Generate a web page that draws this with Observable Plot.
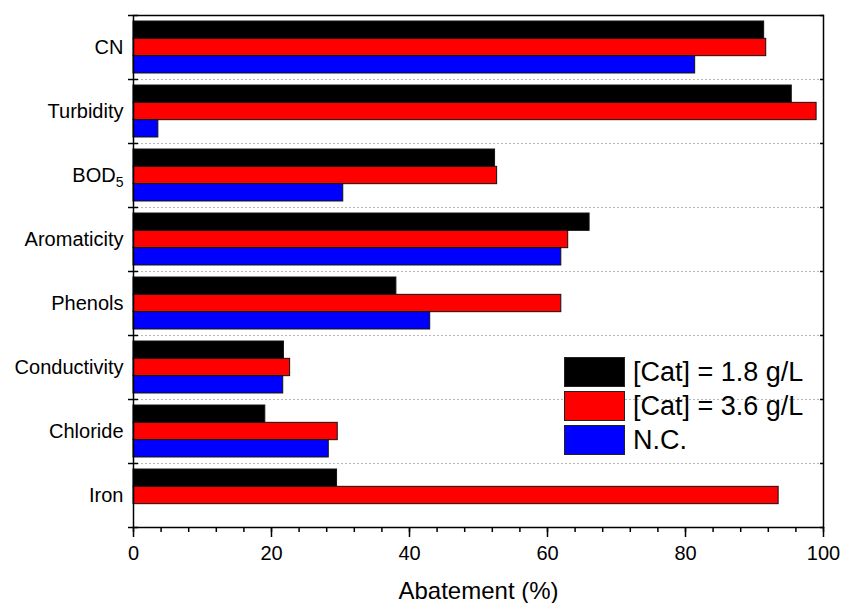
<!DOCTYPE html>
<html><head><meta charset="utf-8">
<script src="https://cdn.jsdelivr.net/npm/d3@7"></script>
<script src="https://cdn.jsdelivr.net/npm/@observablehq/plot@0.6"></script>
<style>
body{margin:0;background:#fff;}
#wrap{position:relative;width:841px;height:603px;font-family:"Liberation Sans",Arial,sans-serif;}
#legend{position:absolute;left:564px;top:357px;}
.item{display:flex;align-items:center;height:30px;margin-bottom:4px;}
.sw{width:59px;height:28px;border:1px solid #222;margin-right:8px;box-sizing:content-box;}
.lab{font-size:27px;line-height:30px;color:#000;white-space:nowrap;}
</style></head><body><div id="wrap"><div id="legend"></div></div>
<script>
const categories = ["CN","Turbidity","BOD5","Aromaticity","Phenols","Conductivity","Chloride","Iron"];
const seriesNames = ["[Cat] = 1.8 g/L","[Cat] = 3.6 g/L","N.C."];
const cat18 = [91.4, 95.4, 52.4, 66.1, 38.1, 21.8, 19.1, 29.5];
const cat36 = [91.7, 99.0, 52.7, 63.0, 62.0, 22.7, 29.6, 93.5];
const nc    = [81.4, 3.6, 30.4, 62.0, 43.0, 21.7, 28.3, null];
const colors = ["#000000","#ff0000","#0000ff"];
const xTicks = [0,20,40,60,80,100];
const xMinorTicks = d3.range(0, 101, 4);
const xLabel = "Abatement (%)";

const seriesValues = [cat18, cat36, nc];
const rows = [];
categories.forEach((c, ci) => seriesValues.forEach((vals, si) => {
  if (vals[ci] != null) rows.push({cat: c, ci, s: seriesNames[si], si, value: vals[ci]});
}));

const n = categories.length;
const outer = 0.094, barH = (1 - 2*outer)/3;

const chart = Plot.plot({
  width: 841, height: 603,
  marginLeft: 133, marginRight: 18, marginTop: 15, marginBottom: 76,
  style: {fontFamily: '"Liberation Sans", Arial, sans-serif', color: "#000", background: "#fff", overflow: "visible"},
  x: {domain: [0, 100], axis: null},
  y: {domain: [0, n], reverse: true, axis: null},
  color: {domain: seriesNames, range: colors},
  marks: [
    Plot.ruleY(d3.range(1, n), {stroke: "#b8b8b8", strokeDasharray: "2,2", strokeWidth: 1}),
    Plot.rectX(rows, {
      x1: d => 0, x2: "value",
      y1: d => d.ci + outer + d.si*barH,
      y2: d => d.ci + outer + (d.si+1)*barH,
      fill: "s", stroke: "#111", strokeWidth: 1
    }),
    Plot.frame({stroke: "#000", strokeWidth: 1.5}),
    Plot.axisY({anchor: "left", ticks: d3.range(n+1), tickFormat: () => "", tickSize: 10, dx: 5, strokeWidth: 1.5, label: null}),
    Plot.axisY({anchor: "right", ticks: d3.range(n+1), tickFormat: () => "", tickSize: 4, dx: -4, strokeWidth: 1.5, label: null}),
    Plot.axisY({anchor: "left", ticks: d3.range(n).map(i => i + 0.5), tickFormat: v => categories[Math.floor(v)], tickSize: 0, tickPadding: 10, fontSize: 20, label: null}),
    Plot.axisX({anchor: "bottom", ticks: xTicks, tickSize: 10, tickPadding: 8, fontSize: 20, strokeWidth: 1.5, label: null}),
    Plot.axisX({anchor: "bottom", ticks: xMinorTicks, tickSize: 5, tickFormat: () => "", strokeWidth: 1.5, label: null}),
    Plot.text([xLabel], {frameAnchor: "bottom", dy: 64, fontSize: 24, lineAnchor: "middle", fill: "#000"})
  ]
});

d3.select(chart).selectAll("text").filter(function(){ return this.textContent === "BOD5"; })
  .html('BOD<tspan font-size="14" dy="5">5</tspan>');

const wrap = document.getElementById("wrap");
wrap.insertBefore(chart, wrap.firstChild);

const legend = d3.select("#legend");
seriesNames.forEach((s, i) => {
  const it = legend.append("div").attr("class", "item");
  it.append("div").attr("class", "sw").style("background", colors[i]);
  it.append("div").attr("class", "lab").text(s);
});
</script></body></html>
